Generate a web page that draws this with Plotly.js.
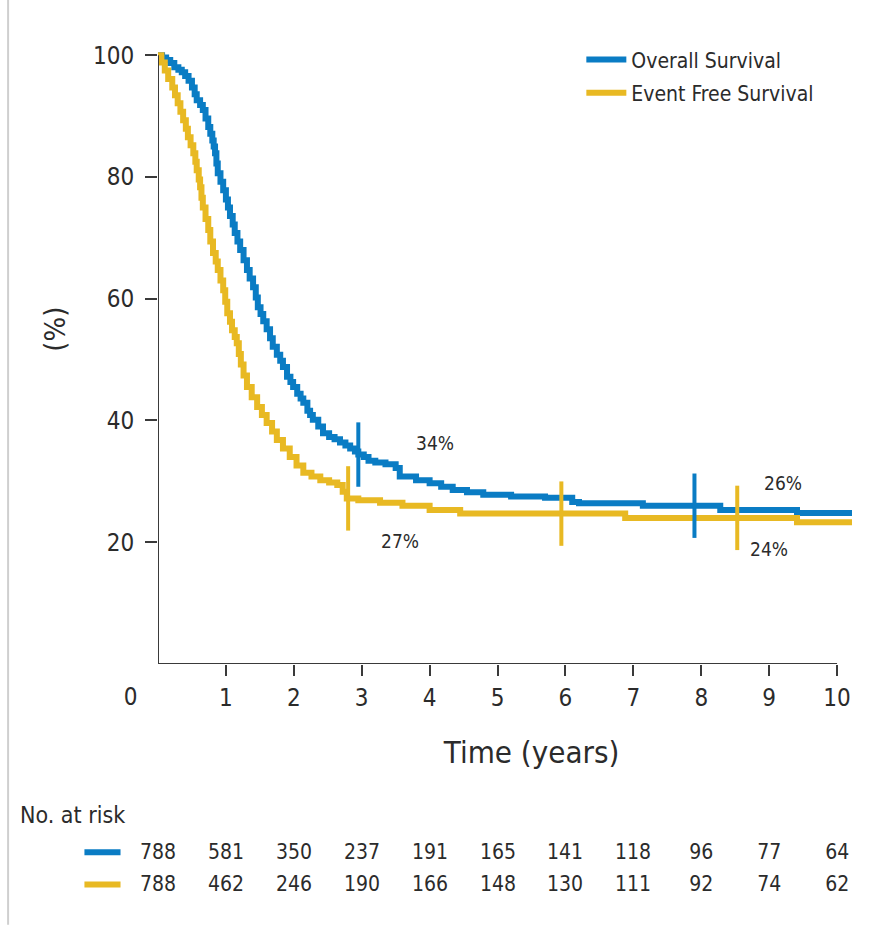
<!DOCTYPE html>
<html>
<head>
<meta charset="utf-8">
<script src="https://cdn.plot.ly/plotly-3.0.1.min.js"></script>
<style>
  html, body { margin: 0; padding: 0; background: #fff; }
  #chart { width: 875px; height: 937px; }
  #chart svg text { font-stretch: condensed !important; }
</style>
</head>
<body>
<div id="chart"></div>
<script>
// Kaplan-Meier estimates, time in years, survival in percent
const osTime = [0, 0.06, 0.12, 0.18, 0.24, 0.3, 0.35, 0.4, 0.45, 0.5, 0.54, 0.57, 0.62, 0.66, 0.7, 0.74,
  0.77, 0.8, 0.82, 0.84, 0.86, 0.88, 0.92, 0.96, 1.0, 1.03, 1.06, 1.1, 1.13, 1.17, 1.21, 1.26, 1.31, 1.35,
  1.4, 1.44, 1.47, 1.51, 1.55, 1.6, 1.65, 1.69, 1.75, 1.8, 1.84, 1.9, 1.95, 1.99, 2.05, 2.1, 2.14, 2.2,
  2.24, 2.28, 2.36, 2.43, 2.52, 2.6, 2.68, 2.76, 2.83, 2.9, 2.95, 3.03, 3.1, 3.2, 3.35, 3.5, 3.56, 3.8,
  4.0, 4.17, 4.34, 4.55, 4.79, 5.2, 5.7, 6.1, 6.2, 7.14, 8.28, 9.41, 10.22];
const osSurv = [100, 99.6, 99.2, 98.7, 98.0, 97.6, 97.2, 96.6, 95.8, 94.7, 93.6, 92.6, 91.8, 91.0, 89.6, 88.2,
  87.1, 86.0, 85.0, 83.9, 82.2, 80.6, 79.2, 77.8, 76.3, 75.0, 73.6, 72.2, 70.8, 69.4, 68.0, 66.3, 64.7, 63.3,
  61.9, 60.2, 58.6, 57.5, 56.3, 55.0, 53.5, 52.1, 50.8, 49.8, 48.8, 47.2, 46.3, 45.5, 44.4, 43.6, 42.9, 41.6,
  40.9, 40.1, 39.0, 37.9, 37.3, 36.9, 36.4, 35.9, 35.4, 34.9, 34.4, 34.0, 33.4, 33.1, 32.8, 32.2, 30.8, 30.2,
  29.7, 29.1, 28.6, 28.2, 27.8, 27.5, 27.3, 26.6, 26.4, 26.0, 25.3, 24.8, 24.8];

const efsTime = [0, 0.05, 0.1, 0.15, 0.21, 0.25, 0.29, 0.33, 0.37, 0.41, 0.44, 0.48, 0.52, 0.55, 0.57, 0.6,
  0.62, 0.64, 0.66, 0.7, 0.74, 0.77, 0.81, 0.85, 0.88, 0.92, 0.96, 0.99, 1.02, 1.06, 1.09, 1.13, 1.16, 1.19,
  1.22, 1.26, 1.31, 1.38, 1.46, 1.53, 1.6, 1.68, 1.75, 1.84, 1.94, 2.04, 2.14, 2.26, 2.39, 2.52, 2.64, 2.72,
  2.78, 2.95, 3.27, 3.6, 4.0, 4.45, 6.88, 9.41, 10.22];
const efsSurv = [100, 98.8, 97.5, 96.1, 94.7, 93.4, 92.1, 90.7, 89.3, 87.9, 86.5, 85.2, 83.9, 82.5, 81.1, 79.6,
  78.3, 76.6, 75.0, 73.1, 71.3, 69.4, 67.5, 66.1, 64.7, 63.0, 61.4, 59.5, 57.6, 56.2, 54.8, 53.7, 52.7, 50.9,
  49.2, 47.4, 45.5, 43.8, 42.2, 40.9, 39.6, 38.2, 36.8, 35.4, 34.0, 32.6, 31.4, 30.8, 30.2, 29.8, 29.4, 28.3,
  27.2, 26.9, 26.5, 26.0, 25.3, 24.7, 24.0, 23.3, 23.3];

// tick marks drawn on the curves
const osMarkTimes = [2.95, 7.9];
const efsMarkTimes = [2.8, 5.94, 8.53];

// labelled estimates
const osLabels = [{ t: 3, v: 34 }, { t: 8, v: 26 }];
const efsLabels = [{ t: 2.8, v: 27 }, { t: 8.5, v: 24 }];

const seriesNames = ['Overall Survival', 'Event Free Survival'];
const xTickVals = [1, 2, 3, 4, 5, 6, 7, 8, 9, 10];
const yTickVals = [20, 40, 60, 80, 100];

// number at risk, at years 0..10
const riskYears = [0, 1, 2, 3, 4, 5, 6, 7, 8, 9, 10];
const osAtRisk = [788, 581, 350, 237, 191, 165, 141, 118, 96, 77, 64];
const efsAtRisk = [788, 462, 246, 190, 166, 148, 130, 111, 92, 74, 62];

const BLUE = '#0a7cc4';
const GOLD = '#e8b923';
const INK = '#2b2b2b';
const AXIS = '#3a3a3a';
const FONT = 'DejaVu Sans, sans-serif';

function stepValue(times, surv, t) {
  let v = surv[0];
  for (let i = 0; i < times.length; i++) { if (times[i] <= t) v = surv[i]; }
  return v;
}

const traces = [
  { x: osTime, y: osSurv, name: seriesNames[0], legendgroup: 'os', type: 'scatter', mode: 'lines',
    line: { color: BLUE, width: 6, shape: 'hv' } },
  { x: efsTime, y: efsSurv, name: seriesNames[1], legendgroup: 'efs', type: 'scatter', mode: 'lines',
    line: { color: GOLD, width: 6, shape: 'hv' } },
  { x: osMarkTimes, y: osMarkTimes.map(t => stepValue(osTime, osSurv, t)), type: 'scatter', mode: 'markers',
    showlegend: false, hoverinfo: 'skip',
    marker: { symbol: 'line-ns', size: 46, line: { color: BLUE, width: 4 } } },
  { x: efsMarkTimes, y: efsMarkTimes.map(t => stepValue(efsTime, efsSurv, t)), type: 'scatter', mode: 'markers',
    showlegend: false, hoverinfo: 'skip',
    marker: { symbol: 'line-ns', size: 46, line: { color: GOLD, width: 4 } } }
];

const annotations = [];
const labFont = { family: FONT, size: 19, color: INK };
// estimate labels, placed next to the curve value
annotations.push({ x: osLabels[0].t, y: osLabels[0].v, text: osLabels[0].v + '%', showarrow: false,
  xref: 'x', yref: 'y', xanchor: 'left', xshift: 50, yshift: 14, font: labFont });
annotations.push({ x: efsLabels[0].t, y: efsLabels[0].v, text: efsLabels[0].v + '%', showarrow: false,
  xref: 'x', yref: 'y', xanchor: 'left', xshift: 29, yshift: -41, font: labFont });
annotations.push({ x: osLabels[1].t, y: osLabels[1].v, text: osLabels[1].v + '%', showarrow: false,
  xref: 'x', yref: 'y', xanchor: 'left', xshift: 59, yshift: 23, font: labFont });
annotations.push({ x: efsLabels[1].t, y: efsLabels[1].v, text: efsLabels[1].v + '%', showarrow: false,
  xref: 'x', yref: 'y', xanchor: 'left', xshift: 11, yshift: -31, font: labFont });

// "0" sits at the corner, left of the axis origin
annotations.push({ x: 0, y: 0, xref: 'x', yref: 'y', text: '0', showarrow: false,
  xshift: -28, yshift: -33, font: { family: FONT, size: 24, color: INK } });

// axis titles
annotations.push({ x: 5.5, y: 0, xref: 'x', yref: 'y', text: 'Time (years)', showarrow: false,
  yshift: -88, font: { family: FONT, size: 31, color: INK } });
annotations.push({ x: 0, y: 55, xref: 'x', yref: 'y', text: '(%)', showarrow: false, textangle: -90,
  xshift: -103, font: { family: FONT, size: 29, color: INK } });

// number at risk table
const riskFont = { family: FONT, size: 21, color: INK };
annotations.push({ x: -0.21, y: -0.243, xref: 'paper', yref: 'paper', text: 'No. at risk', showarrow: false,
  xanchor: 'left', yanchor: 'middle', font: { family: FONT, size: 23, color: INK } });
riskYears.forEach((yr, i) => {
  annotations.push({ x: yr, y: -0.303, xref: 'x', yref: 'paper', text: String(osAtRisk[i]),
    showarrow: false, xanchor: 'center', yanchor: 'middle', font: riskFont });
  annotations.push({ x: yr, y: -0.355, xref: 'x', yref: 'paper', text: String(efsAtRisk[i]),
    showarrow: false, xanchor: 'center', yanchor: 'middle', font: riskFont });
});

const shapes = [
  // axis lines: x from the origin to year 10, y from 0 to 100
  { type: 'line', xref: 'x', yref: 'y', x0: 0, x1: 10, y0: 0, y1: 0, line: { color: AXIS, width: 2 } },
  { type: 'line', xref: 'x', yref: 'y', x0: 0, x1: 0, y0: 0, y1: 100, line: { color: AXIS, width: 2 } },
  // table row keys
  { type: 'line', xref: 'paper', yref: 'paper', x0: -0.106, x1: -0.054, y0: -0.303, y1: -0.303,
    line: { color: BLUE, width: 6 } },
  { type: 'line', xref: 'paper', yref: 'paper', x0: -0.106, x1: -0.054, y0: -0.355, y1: -0.355,
    line: { color: GOLD, width: 6 } },
  // left page rule
  { type: 'line', xref: 'paper', yref: 'paper', x0: -0.216, x1: -0.216, y0: 1.07, y1: -0.42,
    line: { color: '#cfcfcf', width: 2 } }
];

const layout = {
  width: 875, height: 937,
  margin: { l: 158, r: 23, t: 43, b: 273 },
  paper_bgcolor: '#ffffff', plot_bgcolor: '#ffffff',
  font: { family: FONT, color: INK },
  showlegend: true,
  legend: { x: 0.61, y: 1.006, xanchor: 'left', yanchor: 'top', bgcolor: 'rgba(0,0,0,0)',
    font: { family: FONT, size: 21, color: INK }, tracegroupgap: 3, itemwidth: 40 },
  xaxis: { range: [0, 10.22], showgrid: false, zeroline: false, showline: false,
    tickmode: 'array', tickvals: xTickVals, ticktext: xTickVals.map(String),
    ticks: 'outside', ticklen: 11, tickwidth: 2, tickcolor: AXIS, ticklabelstandoff: 1,
    tickfont: { family: FONT, size: 24, color: INK }, fixedrange: true },
  yaxis: { range: [0, 102], showgrid: false, zeroline: false, showline: false,
    tickmode: 'array', tickvals: yTickVals, ticktext: yTickVals.map(String),
    ticks: 'outside', ticklen: 12, tickwidth: 2, tickcolor: AXIS, ticklabelstandoff: 6,
    tickfont: { family: FONT, size: 24, color: INK }, fixedrange: true },
  annotations: annotations,
  shapes: shapes
};

Plotly.newPlot('chart', traces, layout, { displayModeBar: false, staticPlot: true });
</script>
</body>
</html>
